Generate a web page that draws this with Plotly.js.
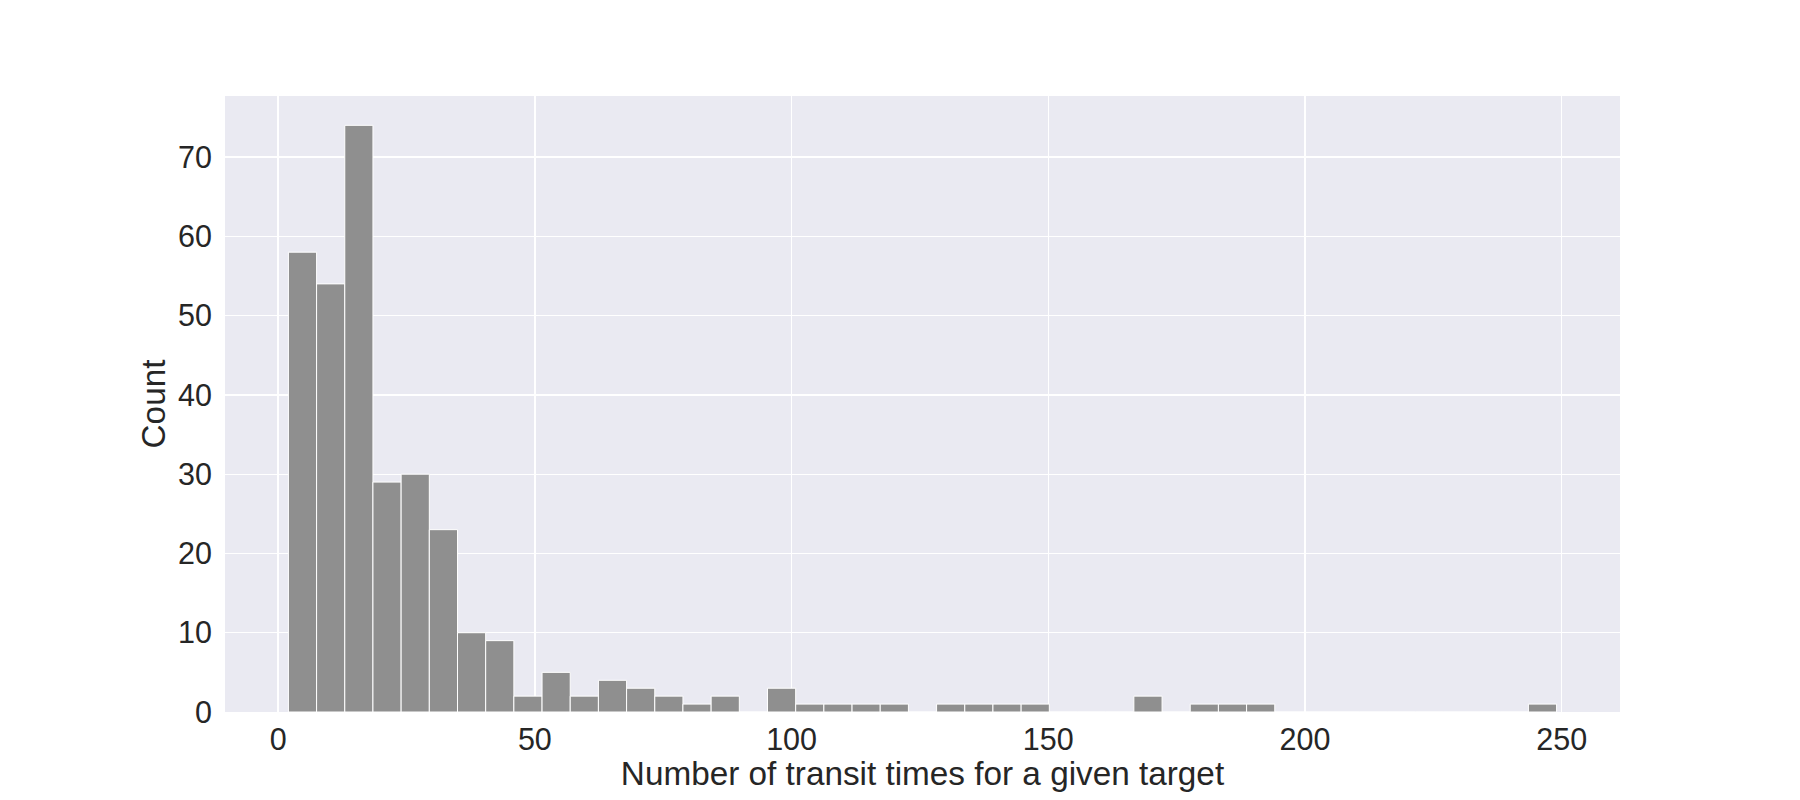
<!DOCTYPE html>
<html>
<head>
<meta charset="utf-8">
<script src="https://cdn.plot.ly/plotly-3.0.1.min.js"></script>
<style>html,body{margin:0;padding:0;background:#fff;}#chart{width:1800px;height:800px;}</style>
</head>
<body>
<div id="chart"></div>
<script>
// Histogram of number of transit times per target: 45 bins from 2 to 249
const binStart = 2;
const binEnd = 249;
const counts = [58, 54, 74, 29, 30, 23, 10, 9, 2, 5,
                2, 4, 3, 2, 1, 2, 0, 3, 1, 1,
                1, 1, 0, 1, 1, 1, 1, 0, 0, 0,
                2, 0, 1, 1, 1, 0, 0, 0, 0, 0,
                0, 0, 0, 0, 1];
const xTicks = [0, 50, 100, 150, 200, 250];
const yTicks = [0, 10, 20, 30, 40, 50, 60, 70];
const xLabel = "Number of transit times for a given target";
const yLabel = "Count";

const nBins = counts.length;
const binWidth = (binEnd - binStart) / nBins;
const centers = counts.map((_, i) => binStart + binWidth * (i + 0.5));

const txtColor = "#262626";
const fontFam = "Arial, 'Liberation Sans', sans-serif";

const trace = {
  type: "bar",
  x: centers,
  y: counts,
  width: binWidth,
  marker: {color: "#8f8f8f", line: {color: "#ffffff", width: 1}},
  hoverinfo: "x+y"
};

const xPad = (binEnd - binStart) * 0.05;
const yMax = Math.max(...counts) * 1.05;

const layout = {
  width: 1800,
  height: 800,
  margin: {l: 225, r: 180, t: 96, b: 88, pad: 0},
  paper_bgcolor: "#ffffff",
  plot_bgcolor: "#EAEAF2",
  showlegend: false,
  bargap: 0,
  font: {family: fontFam, color: txtColor, size: 30.5},
  xaxis: {
    range: [binStart - xPad, binEnd + xPad],
    tickvals: xTicks,
    ticktext: xTicks.map(String),
    showgrid: true,
    gridcolor: "#ffffff",
    gridwidth: 1.3,
    zeroline: false,
    showline: false,
    ticks: "",
    ticklabelstandoff: 6,
    tickfont: {size: 30.5, color: txtColor, family: fontFam},
    automargin: false,
    title: {text: xLabel, font: {size: 33.3, color: txtColor, family: fontFam}, standoff: 4}
  },
  yaxis: {
    range: [0, yMax],
    tickvals: yTicks,
    ticktext: yTicks.map(String),
    showgrid: true,
    gridcolor: "#ffffff",
    gridwidth: 1.3,
    zeroline: false,
    showline: false,
    ticks: "",
    ticklabelstandoff: 12,
    tickfont: {size: 30.5, color: txtColor, family: fontFam},
    automargin: false,
    title: {text: yLabel, font: {size: 33.3, color: txtColor, family: fontFam}, standoff: 2}
  }
};

Plotly.newPlot("chart", [trace], layout, {displayModeBar: false, staticPlot: true});
</script>
</body>
</html>
